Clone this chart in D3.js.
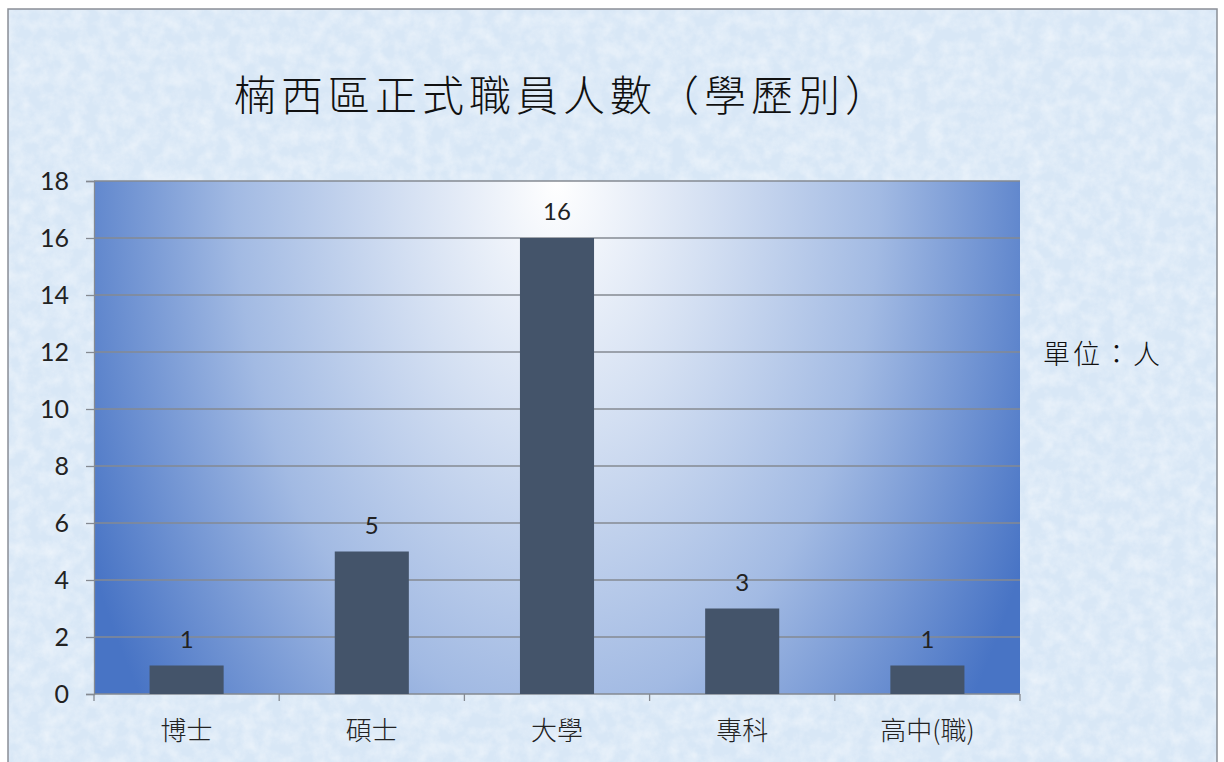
<!DOCTYPE html>
<html>
<head>
<meta charset="utf-8">
<script src="https://d3js.org/d3.v7.min.js"></script>
<style>
  html, body { margin: 0; padding: 0; background: #fff; }
  svg { display: block; }
</style>
</head>
<body>
<svg id="canvas"></svg>
<script>
// Data
const categories = ["博士", "碩士", "大學", "專科", "高中(職)"];
const counts = [1, 5, 16, 3, 1];
const yTicks = [0, 2, 4, 6, 8, 10, 12, 14, 16, 18];
const titleText = "楠西區正式職員人數（學歷別）";
const unitText = "單位：人";

const width = 1224;
const height = 762;
const plot = { left: 94, right: 1020, top: 181, bottom: 694 };

const svg = d3.select("#canvas")
  .attr("width", width)
  .attr("height", height);

const defs = svg.append("defs");

// Paper-like texture for the background
const tex = defs.append("filter").attr("id", "paper")
  .attr("x", 0).attr("y", 0).attr("width", "100%").attr("height", "100%");
tex.append("feTurbulence")
  .attr("type", "fractalNoise")
  .attr("baseFrequency", "0.07")
  .attr("numOctaves", 4)
  .attr("seed", 11)
  .attr("result", "noise");
tex.append("feColorMatrix")
  .attr("in", "noise")
  .attr("type", "matrix")
  .attr("values", "0 0 0 0 1  0 0 0 0 1  0 0 0 0 1  0 0 0 -1.4 0.95")
  .attr("result", "spots");
tex.append("feComposite").attr("in", "spots").attr("in2", "SourceGraphic").attr("operator", "in");

// Elliptical radial gradient of the plot area: white at top centre, blue at the edges
const cx = (plot.left + plot.right) / 2;
const grad = defs.append("radialGradient")
  .attr("id", "plotGrad")
  .attr("gradientUnits", "userSpaceOnUse")
  .attr("cx", 0).attr("cy", 0).attr("r", 1)
  .attr("gradientTransform", `translate(${cx},${plot.top}) scale(520,860)`);
grad.append("stop").attr("offset", "0%").attr("stop-color", "#ffffff");
grad.append("stop").attr("offset", "30%").attr("stop-color", "#d3dff2");
grad.append("stop").attr("offset", "62%").attr("stop-color", "#a2bae3");
grad.append("stop").attr("offset", "100%").attr("stop-color", "#4874c5");

// Background frame
svg.append("rect")
  .attr("x", 8).attr("y", 9)
  .attr("width", 1209).attr("height", height)
  .attr("fill", "#d8e7f6")
  .attr("stroke", "#8a8f96")
  .attr("stroke-width", 1.5);
svg.append("rect")
  .attr("x", 9).attr("y", 10)
  .attr("width", 1207).attr("height", height)
  .attr("fill", "#c6daef")
  .attr("filter", "url(#paper)")
  .attr("opacity", 0.55);

// Scales
const x = d3.scaleBand()
  .domain(categories)
  .range([plot.left, plot.right])
  .paddingInner(0.6)
  .paddingOuter(0.3);

const y = d3.scaleLinear()
  .domain([0, 18])
  .range([plot.bottom, plot.top]);

// Plot area
svg.append("rect")
  .attr("x", plot.left).attr("y", plot.top)
  .attr("width", plot.right - plot.left)
  .attr("height", plot.bottom - plot.top)
  .attr("fill", "url(#plotGrad)");

// Gridlines
svg.append("g")
  .selectAll("line")
  .data(yTicks.filter(d => d > 0))
  .enter()
  .append("line")
  .attr("x1", plot.left).attr("x2", plot.right)
  .attr("y1", d => y(d)).attr("y2", d => y(d))
  .attr("stroke", "#858a92")
  .attr("stroke-width", 1.3);

// Y axis
const yAxis = svg.append("g")
  .attr("transform", `translate(${plot.left},0)`)
  .call(d3.axisLeft(y).tickValues(yTicks).tickSize(8).tickPadding(17));
yAxis.select(".domain").attr("stroke", "#858a92").attr("stroke-width", 1.3);
yAxis.selectAll(".tick line").attr("stroke", "#858a92").attr("stroke-width", 1.3);
yAxis.selectAll("text")
  .attr("font-family", "Lato, 'Open Sans', sans-serif")
  .attr("font-size", 25)
  .attr("fill", "#222");

// X axis: ticks sit between the categories
const xAxis = svg.append("g")
  .attr("transform", `translate(0,${plot.bottom})`);
xAxis.append("line")
  .attr("x1", plot.left).attr("x2", plot.right)
  .attr("stroke", "#858a92").attr("stroke-width", 1.3);
const bounds = categories.map(c => x(c) - x.step() * x.paddingInner() / 2);
bounds.push(plot.right);
xAxis.selectAll(".sep")
  .data(bounds)
  .enter()
  .append("line")
  .attr("class", "sep")
  .attr("x1", d => d).attr("x2", d => d)
  .attr("y1", 0).attr("y2", 7)
  .attr("stroke", "#858a92").attr("stroke-width", 1.3);
xAxis.selectAll("text")
  .data(categories)
  .enter()
  .append("text")
  .attr("x", d => x(d) + x.bandwidth() / 2)
  .attr("y", 46)
  .attr("text-anchor", "middle")
  .attr("font-family", "'Noto Sans CJK TC', sans-serif")
  .attr("font-size", 26)
  .attr("font-weight", 300)
  .attr("fill", "#222")
  .text(d => d);

// Bars
svg.append("g")
  .selectAll("rect")
  .data(counts)
  .enter()
  .append("rect")
  .attr("x", (d, i) => x(categories[i]))
  .attr("y", d => y(d))
  .attr("width", x.bandwidth())
  .attr("height", d => y(0) - y(d))
  .attr("fill", "#44546a");

// Data labels
svg.append("g")
  .selectAll("text")
  .data(counts)
  .enter()
  .append("text")
  .attr("x", (d, i) => x(categories[i]) + x.bandwidth() / 2)
  .attr("y", d => y(d) - 18)
  .attr("text-anchor", "middle")
  .attr("font-family", "Lato, 'Open Sans', sans-serif")
  .attr("font-size", 24)
  .attr("fill", "#222")
  .text(d => d);

// Title
svg.append("text")
  .attr("x", 563)
  .attr("y", 111)
  .attr("text-anchor", "middle")
  .attr("font-family", "'Noto Sans CJK TC', serif")
  .attr("font-size", 42)
  .attr("font-weight", 300)
  .attr("letter-spacing", 5)
  .attr("fill", "#111")
  .text(titleText);

// Unit note
svg.append("text")
  .attr("x", 1043)
  .attr("y", 364)
  .attr("font-family", "'Noto Sans CJK TC', serif")
  .attr("font-size", 27)
  .attr("font-weight", 300)
  .attr("letter-spacing", 3)
  .attr("fill", "#111")
  .text(unitText);
</script>
</body>
</html>
